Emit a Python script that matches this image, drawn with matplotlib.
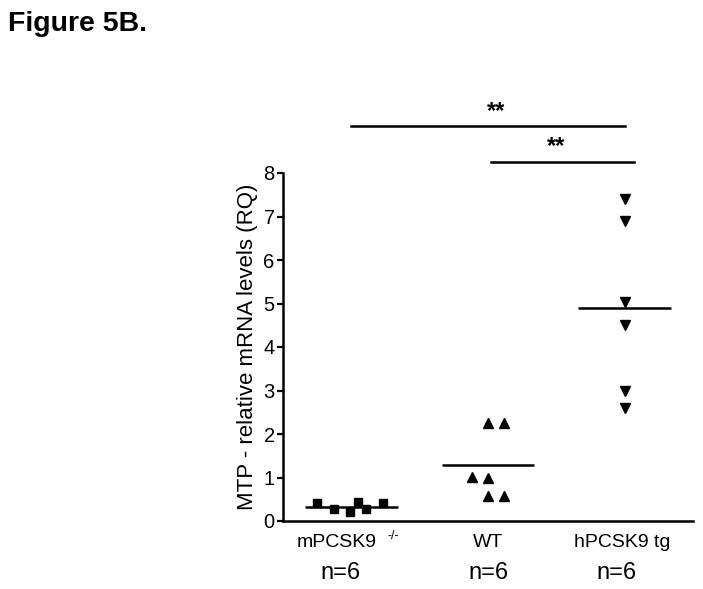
import numpy as np
import matplotlib
matplotlib.use("Agg")
import matplotlib.pyplot as plt

plt.rcParams['font.family'] = ['Liberation Sans', 'DejaVu Sans']

groups = ["mPCSK9", "WT", "hPCSK9 tg"]
n_labels = ["n=6", "n=6", "n=6"]
mpcsk9_ko = [0.41, 0.27, 0.20, 0.44, 0.27, 0.41]
wt = [2.25, 2.25, 1.02, 1.00, 0.58, 0.58]
hpcsk9_tg = [7.40, 6.90, 5.03, 4.50, 2.99, 2.60]
# horizontal scatter of the points inside each column
ko_jitter = [-0.25, -0.125, -0.01, 0.05, 0.11, 0.23]
wt_jitter = [0.0, 0.117, -0.117, 0.0, 0.0, 0.117]
tg_jitter = [0, 0, 0, 0, 0, 0]

fig = plt.figure(figsize=(7.03, 5.89), dpi=100)
ax = fig.add_axes([283 / 703, 1 - 521 / 589, 410 / 703, 348 / 589])

series = [(mpcsk9_ko, ko_jitter, 's', 6.2),
          (wt, wt_jitter, '^', 7.5),
          (hpcsk9_tg, tg_jitter, 'v', 7.5)]
for i, (vals, jit, mk, ms) in enumerate(series):
    x = i + 1 + np.array(jit)
    ax.plot(x, vals, linestyle='none', marker=mk, markersize=ms, color='black', clip_on=False)
    ax.hlines(np.mean(vals), i + 1 - 0.34, i + 1 + 0.34, color='black', linewidth=1.8)

ax.set_xlim(0.5, 3.5)
ax.set_ylim(0, 8)
ax.set_yticks(range(0, 9))
ax.set_xticks([])
ax.tick_params(axis='y', direction='out', length=4.5, width=1.6, labelsize=14.5, pad=1.5)
for s in ['top', 'right']:
    ax.spines[s].set_visible(False)
for s in ['left', 'bottom']:
    ax.spines[s].set_linewidth(1.8)
ax.set_ylabel("MTP - relative mRNA levels (RQ)", fontsize=16, labelpad=4)

tr = ax.get_xaxis_transform()
ax.text(0.894, -0.063, groups[0], transform=tr, ha='center', va='center', fontsize=14)
ax.text(1.31, -0.042, "-/-", transform=tr, ha='center', va='center', fontsize=9)
ax.text(2.0, -0.063, groups[1], transform=tr, ha='center', va='center', fontsize=14)
ax.text(2.985, -0.063, groups[2], transform=tr, ha='center', va='center', fontsize=14)
for x, lab in zip([0.92, 2.0, 2.94], n_labels):
    ax.text(x, -0.15, lab, transform=tr, ha='center', va='center', fontsize=17)

# significance bars
ax.plot([1.0, 3.0], [9.09, 9.09], color='black', linewidth=1.8, clip_on=False)
ax.text(2.06, 9.42, "**", ha='center', va='center', fontsize=17, fontweight='bold')
ax.plot([2.02, 3.07], [8.25, 8.25], color='black', linewidth=1.8, clip_on=False)
ax.text(2.5, 8.6, "**", ha='center', va='center', fontsize=17, fontweight='bold')

fig.text(8 / 703, 1 - 24 / 589, "Figure 5B.", fontsize=20.5, fontweight='bold', ha='left', va='center')

fig.savefig("out.png", dpi=100)
